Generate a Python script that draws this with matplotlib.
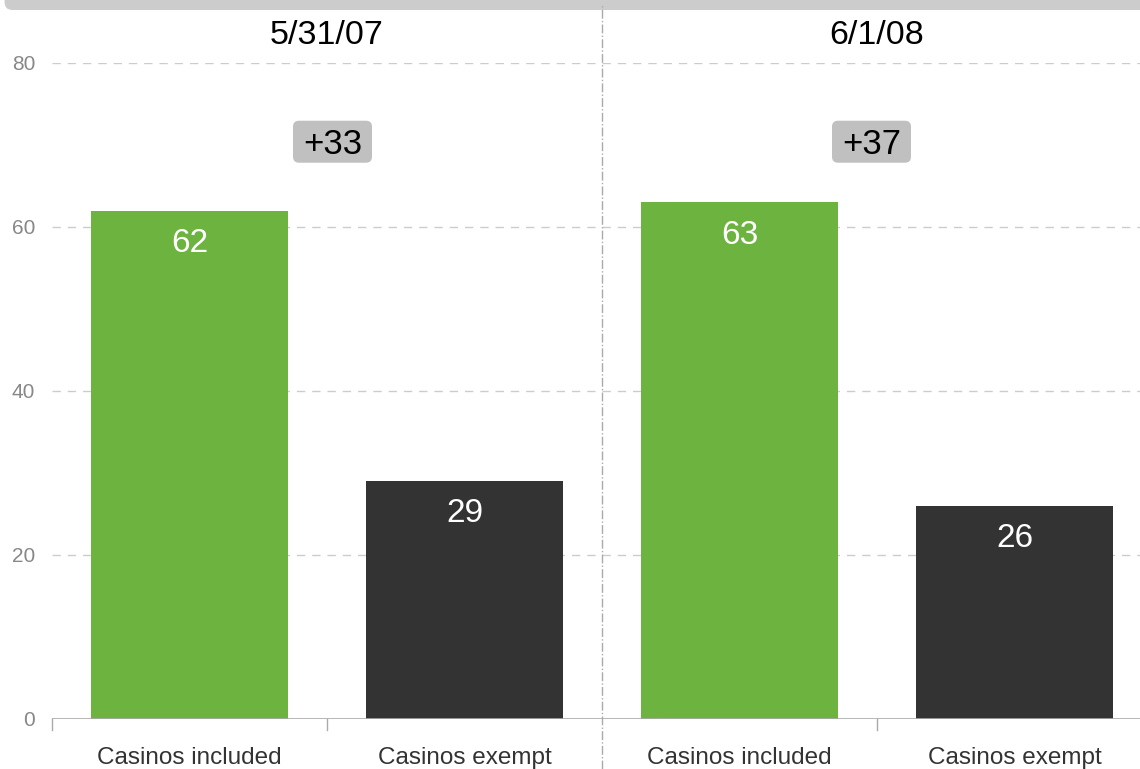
import matplotlib
matplotlib.use("Agg")
import matplotlib.pyplot as plt
from matplotlib.patches import FancyBboxPatch
from matplotlib.lines import Line2D

plt.rcParams['font.family'] = ['Liberation Sans', 'DejaVu Sans']

groups = ["5/31/07", "6/1/08"]
categories = ["Casinos included", "Casinos exempt", "Casinos included", "Casinos exempt"]
values = [62, 29, 63, 26]
diffs = ["+33", "+37"]
yticks = [0, 20, 40, 60, 80]
colors = ["#6db33f", "#333333", "#6db33f", "#333333"]

W, H = 1140, 769
fig = plt.figure(figsize=(W/100, H/100), dpi=100)
ax = fig.add_axes([52/W, (H-719)/H, 1100/W, (719-63)/H])
ax.set_xlim(-0.5, 3.5)
ax.set_ylim(0, 80)

x = list(range(len(values)))
ax.bar(x, values, width=0.713, color=colors, zorder=3)
for xi, v in zip(x, values):
    ax.text(xi, v - 4.0, str(v), ha='center', va='center', color='white', fontsize=24, zorder=4)

for s in ax.spines.values():
    s.set_visible(False)
ax.axhline(0, color='#aaaaaa', lw=1.2, zorder=4)
for yv in yticks[1:]:
    ax.axhline(yv, color='#cccccc', lw=1, ls=(0, (6, 5)), zorder=1)

ax.set_yticks(yticks)
ax.set_yticklabels([str(t) for t in yticks], color='#888888', fontsize=15)
ax.tick_params(axis='y', length=0, pad=12)
ax.set_xticks(x)
ax.set_xticklabels(categories, fontsize=17.5, color='#333333')
ax.tick_params(axis='x', length=0, pad=20)
# boundary tick marks
for b in [-0.5, 0.5, 2.5]:
    ax.plot([b, b], [0, -1.3], color='#aaaaaa', lw=1, clip_on=False, zorder=4)

# divider
xd = 52 + 2 * 275
fig.add_artist(Line2D([xd/W, xd/W], [0, (H-5)/H], color='#aaaaaa', lw=1, ls='-.'))

# group titles
for gi, g in enumerate(groups):
    ax.text(gi * 2 + 0.5, 1.0 + 27/656, g, transform=ax.get_xaxis_transform(),
            ha='center', va='center', fontsize=24.5, color='black')

# difference badges
bw, bh = 79, 42
for xb, d in zip([0.52, 2.48], diffs):
    px, py = ax.transData.transform((xb, 70.4))
    fig.add_artist(FancyBboxPatch(((px - bw/2)/W, (py - bh/2)/H), bw/W, bh/H,
                                  boxstyle='round,pad=0,rounding_size=%f' % (6/W),
                                  mutation_aspect=W/H,
                                  transform=fig.transFigure, fc='#c0c0c0', ec='none', zorder=5))
    fig.text(px/W, (py - 3)/H, d, ha='center', va='center', fontsize=25, color='black', zorder=6)

# top band
fig.add_artist(FancyBboxPatch((0.004, 1 - 10/H), 1.2, 0.05, boxstyle='round,pad=0,rounding_size=%f' % (8/W),
                              mutation_aspect=W/H,
                              transform=fig.transFigure, fc='#cccccc', ec='none'))

fig.savefig("out.png", dpi=100)
